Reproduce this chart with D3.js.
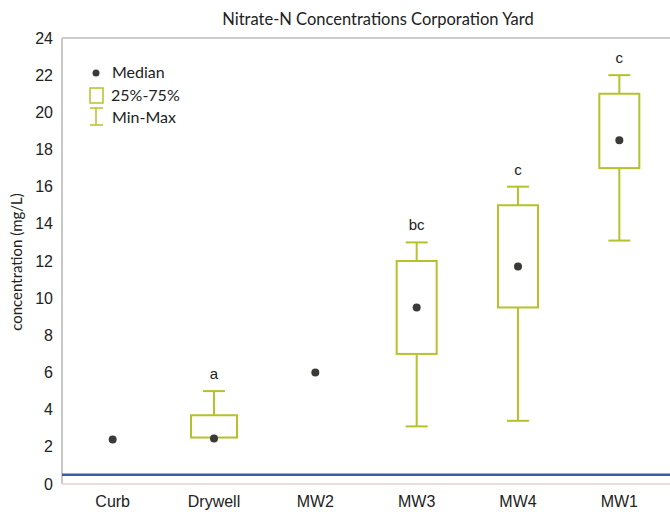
<!DOCTYPE html>
<html>
<head>
<meta charset="utf-8">
<script src="https://cdn.jsdelivr.net/npm/d3@7"></script>
<style>
  body { margin: 0; background: #fff; }
  svg { display: block; }
</style>
</head>
<body>
<div id="chart"></div>
<script>
const width = 670;
const height = 512;

// data
const sites = ['Curb', 'Drywell', 'MW2', 'MW3', 'MW4', 'MW1'];
const medians = [2.4, 2.45, 6.0, 9.5, 11.7, 18.5];
const q1 = [null, 2.5, null, 7.0, 9.5, 17.0];
const q3 = [null, 3.7, null, 12.0, 15.0, 21.0];
const mins = [null, 2.5, null, 3.1, 3.4, 13.1];
const maxs = [null, 5.0, null, 13.0, 16.0, 22.0];
const groupLabels = ['', 'a', '', 'bc', 'c', 'c'];
const yTicks = [0, 2, 4, 6, 8, 10, 12, 14, 16, 18, 20, 22, 24];
const referenceLine = 0.5;

const boxColor = '#b5c22a';
const dotColor = '#3a3a36';

const margin = { top: 38, right: 0, bottom: 28, left: 62 };

const svg = d3.select('#chart')
    .append('svg')
    .attr('width', width)
    .attr('height', height)

const x = d3.scaleBand()
    .domain(sites)
    .range([margin.left, width - margin.right])
    .padding(0)

const y = d3.scaleLinear()
    .domain([0, 24])
    .range([height - margin.bottom, margin.top])

// title
svg.append('text')
    .attr('x', 378)
    .attr('y', 25)
    .attr('text-anchor', 'middle')
    .style('font-family', 'Lato, "Open Sans", sans-serif')
    .style('font-size', '16.5px')
    .attr('fill', '#222')
    .text('Nitrate-N Concentrations Corporation Yard')

// frame
svg.append('line')
    .attr('x1', margin.left).attr('x2', width)
    .attr('y1', y(24)).attr('y2', y(24))
    .attr('stroke', '#bdbdbd').attr('stroke-width', 1.5)
svg.append('line')
    .attr('x1', margin.left).attr('x2', margin.left)
    .attr('y1', y(24)).attr('y2', y(0))
    .attr('stroke', '#c8c8c8').attr('stroke-width', 2)
svg.append('line')
    .attr('x1', margin.left).attr('x2', width)
    .attr('y1', y(0)).attr('y2', y(0))
    .attr('stroke', '#e6d0d0').attr('stroke-width', 1.5)

// y axis
const yAxis = svg.append('g')
    .attr('transform', 'translate(' + margin.left + ',0)')
    .call(d3.axisLeft(y).tickValues(yTicks).tickSize(0).tickPadding(9))
yAxis.select('.domain').remove()
yAxis.selectAll('text')
    .style('font-family', '"Liberation Sans", Arial, sans-serif')
    .style('font-size', '16px')
    .attr('fill', '#222')

// x axis
const xAxis = svg.append('g')
    .attr('transform', 'translate(0,' + y(0) + ')')
    .call(d3.axisBottom(x).tickSize(0).tickPadding(12))
xAxis.select('.domain').remove()
xAxis.selectAll('text')
    .style('font-family', '"Liberation Sans", Arial, sans-serif')
    .style('font-size', '16px')
    .attr('fill', '#222')

// y label
svg.append('text')
    .attr('transform', 'translate(22,' + 262 + ') rotate(-90)')
    .attr('text-anchor', 'middle')
    .style('font-family', 'Lato, "Open Sans", sans-serif')
    .style('font-size', '15px')
    .attr('fill', '#222')
    .text('concentration (mg/L)')

// reference line
svg.append('line')
    .attr('x1', margin.left).attr('x2', width)
    .attr('y1', y(referenceLine)).attr('y2', y(referenceLine))
    .attr('stroke', '#3b5bab').attr('stroke-width', 2.5)

// boxes
const boxWidth = 40;
const capWidth = 22;

const groups = svg.selectAll('g.site')
    .data(sites.map((s, i) => ({
        site: s, median: medians[i], q1: q1[i], q3: q3[i],
        min: mins[i], max: maxs[i], label: groupLabels[i]
    })))
    .enter()
    .append('g')
    .attr('class', 'site')
    .attr('transform', (d) => 'translate(' + (x(d.site) + x.bandwidth() / 2) + ',0)')

const withBox = groups.filter((d) => d.q1 !== null)

// whiskers
withBox.append('line')
    .attr('x1', 0).attr('x2', 0)
    .attr('y1', (d) => y(d.q3)).attr('y2', (d) => y(d.max))
    .attr('stroke', boxColor).attr('stroke-width', 2)
withBox.append('line')
    .attr('x1', 0).attr('x2', 0)
    .attr('y1', (d) => y(d.q1)).attr('y2', (d) => y(d.min))
    .attr('stroke', boxColor).attr('stroke-width', 2)
withBox.append('line')
    .attr('x1', -capWidth / 2).attr('x2', capWidth / 2)
    .attr('y1', (d) => y(d.max)).attr('y2', (d) => y(d.max))
    .attr('stroke', boxColor).attr('stroke-width', 2)
withBox.filter((d) => d.min < d.q1)
    .append('line')
    .attr('x1', -capWidth / 2).attr('x2', capWidth / 2)
    .attr('y1', (d) => y(d.min)).attr('y2', (d) => y(d.min))
    .attr('stroke', boxColor).attr('stroke-width', 2)

withBox.append('rect')
    .attr('x', (d) => d.site === 'Drywell' ? -23 : -boxWidth / 2)
    .attr('width', (d) => d.site === 'Drywell' ? 46 : boxWidth)
    .attr('y', (d) => y(d.q3))
    .attr('height', (d) => y(d.q1) - y(d.q3))
    .attr('fill', 'none')
    .attr('stroke', boxColor)
    .attr('stroke-width', 2)

// medians
groups.append('circle')
    .attr('cy', (d) => y(d.median))
    .attr('r', 4)
    .attr('fill', dotColor)

// group letters
groups.append('text')
    .attr('y', (d) => y(d.max === null ? d.median : d.max) - 12)
    .attr('text-anchor', 'middle')
    .style('font-family', '"Liberation Sans", Arial, sans-serif')
    .style('font-size', '15px')
    .attr('fill', '#222')
    .text((d) => d.label)

// legend
const legend = svg.append('g')
    .attr('transform', 'translate(89,73)')
    .style('font-family', 'Lato, "Open Sans", sans-serif')
    .style('font-size', '16px')

legend.append('circle')
    .attr('cx', 7).attr('cy', 0).attr('r', 3.5).attr('fill', dotColor)
legend.append('text').attr('x', 23).attr('y', 5).attr('fill', '#222').text('Median')

legend.append('rect')
    .attr('x', 1).attr('y', 15).attr('width', 13).attr('height', 15)
    .attr('fill', 'none').attr('stroke', boxColor).attr('stroke-width', 1.5)
legend.append('text').attr('x', 22).attr('y', 28).attr('fill', '#222').text('25%-75%')

legend.append('line')
    .attr('x1', 7).attr('x2', 7).attr('y1', 35).attr('y2', 52)
    .attr('stroke', boxColor).attr('stroke-width', 1.5)
legend.append('line')
    .attr('x1', 1).attr('x2', 14).attr('y1', 35).attr('y2', 35)
    .attr('stroke', boxColor).attr('stroke-width', 1.5)
legend.append('line')
    .attr('x1', 1).attr('x2', 14).attr('y1', 52).attr('y2', 52)
    .attr('stroke', boxColor).attr('stroke-width', 1.5)
legend.append('text').attr('x', 23).attr('y', 50).attr('fill', '#222').text('Min-Max')
</script>
</body>
</html>
